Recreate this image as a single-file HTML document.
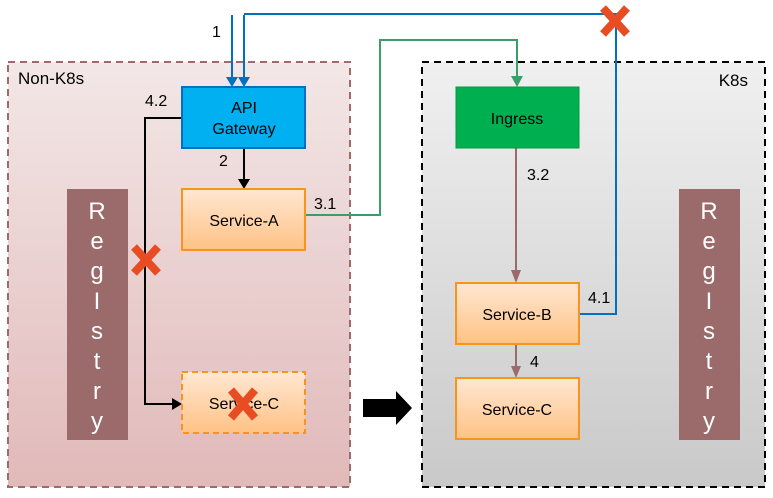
<!DOCTYPE html>
<html><head><meta charset="utf-8"><style>
html,body{margin:0;padding:0;background:#fff;}
svg{display:block;font-family:"Liberation Sans",sans-serif;}
</style></head><body>
<svg width="773" height="498" viewBox="0 0 773 498" xmlns="http://www.w3.org/2000/svg">
<defs>
<linearGradient id="pk" x1="0" y1="0" x2="0" y2="1"><stop offset="0" stop-color="#f3e7e7"/><stop offset="1" stop-color="#e1b9b9"/></linearGradient>
<linearGradient id="gy" x1="0" y1="0" x2="0" y2="1"><stop offset="0" stop-color="#f0f0f0"/><stop offset="1" stop-color="#c9c9c9"/></linearGradient>
<linearGradient id="or" x1="0" y1="0" x2="0" y2="1"><stop offset="0" stop-color="#ffe7d2"/><stop offset="1" stop-color="#ffc285"/></linearGradient>
</defs>
<rect x="8" y="62" width="342" height="425" fill="url(#pk)" stroke="#a06a6a" stroke-width="2" stroke-dasharray="7,5"/>
<rect x="422" y="62" width="343" height="425" fill="url(#gy)" stroke="#000" stroke-width="2" stroke-dasharray="7,5"/>
<text x="18" y="84" font-size="17">Non-K8s</text>
<text x="748" y="86" font-size="17" text-anchor="end">K8s</text>
<g fill="#fff" font-size="24" text-anchor="middle">
<rect x="67" y="189" width="61" height="251" fill="#9b6a6a"/>
<rect x="679" y="189" width="61" height="251" fill="#9b6a6a"/>
<text x="97" y="219">R</text><text x="97" y="249">e</text><text x="97" y="279">g</text><text x="97" y="309">I</text><text x="97" y="339">s</text><text x="97" y="369">t</text><text x="97" y="399">r</text><text x="97" y="429">y</text>
<text x="709" y="219">R</text><text x="709" y="249">e</text><text x="709" y="279">g</text><text x="709" y="309">I</text><text x="709" y="339">s</text><text x="709" y="369">t</text><text x="709" y="399">r</text><text x="709" y="429">y</text>
</g>
<g fill="none" stroke-width="2">
<path d="M232,15 V84" stroke="#0070c0"/>
<path d="M244,15 V84" stroke="#0070c0"/>
<path d="M244,14 H616 V314 H579" stroke="#0070c0"/>
<path d="M305,215 H380 V40 H517 V80" stroke="#3a9e6a"/>
<path d="M516,148 V275" stroke="#9b6a6a"/>
<path d="M516,344 V370" stroke="#9b6a6a"/>
<path d="M244,148 V181" stroke="#000"/>
<path d="M182,118 H145 V404 H174" stroke="#000"/>
</g>
<path d="M226,77 L238,77 L232,87 z M238,77 L250,77 L244,87 z" fill="#0070c0"/>
<path d="M511,76 L523,76 L517,87 z" fill="#3a9e6a"/>
<path d="M511,270 L521,270 L516,283 z M511,366 L521,366 L516,378 z" fill="#9b6a6a"/>
<path d="M238,179 L250,179 L244,189 z M172,398 L172,410 L182,404 z" fill="#000"/>
<rect x="182" y="87" width="123" height="61" fill="#00b0f0" stroke="#0070c0" stroke-width="2"/>
<text x="244" y="113" font-size="16" text-anchor="middle">API</text>
<text x="244" y="134" font-size="16" text-anchor="middle">Gateway</text>
<rect x="182" y="189" width="123" height="61" fill="url(#or)" stroke="#f7941d" stroke-width="2"/>
<text x="244" y="226" font-size="16" text-anchor="middle">Service-A</text>
<rect x="182" y="372" width="123" height="61" fill="url(#or)" stroke="#f7941d" stroke-width="2" stroke-dasharray="6,4"/>
<text x="244" y="409" font-size="16" text-anchor="middle">Service-C</text>
<rect x="456" y="87" width="123" height="61" fill="#00b050" stroke="#009a44" stroke-width="1"/>
<text x="517" y="124" font-size="16" text-anchor="middle">Ingress</text>
<rect x="456" y="283" width="123" height="61" fill="url(#or)" stroke="#f7941d" stroke-width="2"/>
<text x="517" y="320" font-size="16" text-anchor="middle">Service-B</text>
<rect x="456" y="378" width="123" height="61" fill="url(#or)" stroke="#f7941d" stroke-width="2"/>
<text x="517" y="415" font-size="16" text-anchor="middle">Service-C</text>
<g font-size="16">
<text x="212" y="37">1</text>
<text x="145" y="106">4.2</text>
<text x="219" y="166">2</text>
<text x="314" y="209">3.1</text>
<text x="527" y="180">3.2</text>
<text x="588" y="303">4.1</text>
<text x="530" y="367">4</text>
</g>
<g stroke="#e84c22" stroke-width="8">
<path d="M603,8 L627,34 M627,8 L603,34"/>
<path d="M134,247 L158,273 M158,247 L134,273"/>
<path d="M231,390 L255,418 M255,390 L231,418"/>
</g>
<path d="M363,399 H396 V391 L412,408 L396,425 V417 H363 z" fill="#000"/>
</svg>
</body></html>
